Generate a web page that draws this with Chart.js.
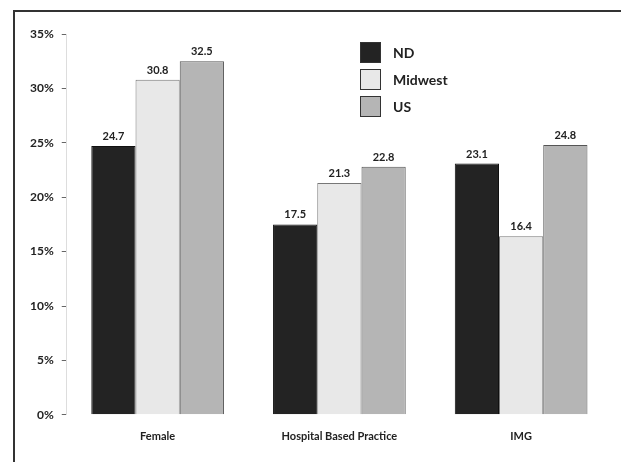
<!DOCTYPE html>
<html>
<head>
<meta charset="utf-8">
<script src="https://cdn.jsdelivr.net/npm/chart.js@4"></script>
<style>
    html, body {
        margin: 0;
        padding: 0;
        background: #fff;
    }

    #wrap {
        position: relative;
        width: 621px;
        height: 462px;
    }

    #frame {
        position: absolute;
        left: 13px;
        top: 10px;
        right: 0;
        bottom: 0;
        border-left: 2px solid #333;
        border-top: 2px solid #333;
    }
</style>
</head>
<body>
<div id="wrap">
    <div id="frame"></div>
    <canvas id="chart" width="621" height="462"></canvas>
</div>
<script>
// ============================================
// DATA
// ============================================

const categories = ['Female', 'Hospital Based Practice', 'IMG'];
const seriesNames = ['ND', 'Midwest', 'US'];

const ndValues = [24.7, 17.5, 23.1];
const midwestValues = [30.8, 21.3, 16.4];
const usValues = [32.5, 22.8, 24.8];

const yTicks = [0, 5, 10, 15, 20, 25, 30, 35];

const FONT = "Lato, 'Open Sans', sans-serif";

// ============================================
// PLUGINS
// ============================================

const valueLabels = {
    id: 'valueLabels',
    afterDatasetsDraw(chart) {
        const ctx = chart.ctx;
        ctx.save();
        ctx.fillStyle = '#222';
        ctx.font = `bold 11px ${FONT}`;
        ctx.textAlign = 'center';
        ctx.textBaseline = 'bottom';

        chart.data.datasets.forEach((ds, i) => {
            const meta = chart.getDatasetMeta(i);
            meta.data.forEach((bar, j) => {
                ctx.fillText(ds.data[j].toFixed(1), bar.x, bar.y - 4);
            });
        });
        ctx.restore();
    }
};

const boxLegend = {
    id: 'boxLegend',
    afterDraw(chart) {
        const ctx = chart.ctx;
        const x = 360;
        let y = 42;
        ctx.save();
        ctx.font = `bold 14px ${FONT}`;
        ctx.textBaseline = 'middle';
        chart.data.datasets.forEach((ds) => {
            ctx.fillStyle = ds.backgroundColor;
            ctx.fillRect(x, y, 21, 21);
            ctx.strokeStyle = '#333';
            ctx.lineWidth = 1;
            ctx.strokeRect(x + 0.5, y + 0.5, 20, 20);
            ctx.fillStyle = '#222';
            ctx.fillText(ds.label, x + 33, y + 11);
            y += 27;
        });
        ctx.restore();
    }
};

// ============================================
// CHART
// ============================================

const ctx = document.getElementById('chart').getContext('2d');

new Chart(ctx, {
    type: 'bar',

    data: {
        labels: categories,

        datasets: [
            {
                label: seriesNames[0],
                data: ndValues,
                backgroundColor: '#232323',
                borderColor: '#111',
                borderWidth: 1
            },
            {
                label: seriesNames[1],
                data: midwestValues,
                backgroundColor: '#e8e8e8',
                borderColor: '#777',
                borderWidth: 1
            },
            {
                label: seriesNames[2],
                data: usValues,
                backgroundColor: '#b5b5b5',
                borderColor: '#555',
                borderWidth: 1
            }
        ]
    },

    options: {
        responsive: false,
        animation: false,

        layout: {
            padding: {
                top: 34,
                right: 9,
                bottom: 4,
                left: 22
            }
        },

        datasets: {
            bar: {
                barPercentage: 1,
                categoryPercentage: 0.73
            }
        },

        plugins: {
            legend: {
                display: false
            },
            tooltip: {
                enabled: false
            }
        },

        scales: {
            x: {
                grid: {
                    display: false,
                    drawTicks: false
                },
                border: {
                    display: false
                },
                ticks: {
                    color: '#222',
                    padding: 15,
                    font: {
                        family: FONT,
                        size: 11,
                        weight: 'bold'
                    }
                }
            },

            y: {
                min: 0,
                max: 35,
                afterBuildTicks(axis) {
                    axis.ticks = yTicks.map((v) => ({ value: v }));
                },
                grid: {
                    drawOnChartArea: false,
                    tickLength: 5,
                    color: '#666'
                },
                border: {
                    color: '#ddd'
                },
                ticks: {
                    color: '#222',
                    padding: 8,
                    font: {
                        family: FONT,
                        size: 12,
                        weight: 'bold'
                    },
                    callback(value) {
                        return value + '%';
                    }
                }
            }
        }
    },

    plugins: [valueLabels, boxLegend]
});
</script>
</body>
</html>
